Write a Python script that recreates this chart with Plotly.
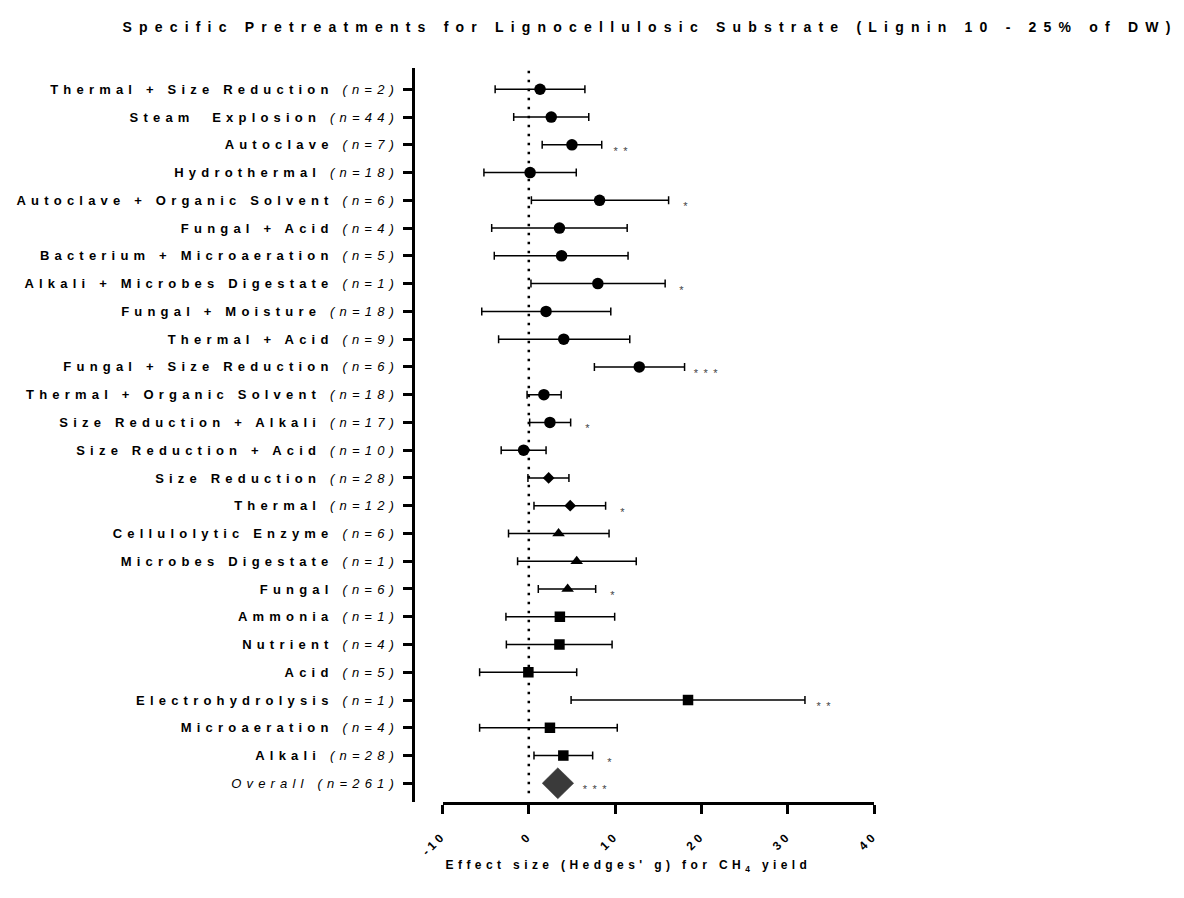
import json
import plotly.graph_objects as go

# ---- data -------------------------------------------------------------
labels = [
    "Thermal + Size Reduction", "Steam  Explosion", "Autoclave", "Hydrothermal",
    "Autoclave + Organic Solvent", "Fungal + Acid", "Bacterium + Microaeration",
    "Alkali + Microbes Digestate", "Fungal + Moisture", "Thermal + Acid",
    "Fungal + Size Reduction", "Thermal + Organic Solvent", "Size Reduction + Alkali",
    "Size Reduction + Acid", "Size Reduction", "Thermal", "Cellulolytic Enzyme",
    "Microbes Digestate", "Fungal", "Ammonia", "Nutrient", "Acid",
    "Electrohydrolysis", "Microaeration", "Alkali",
]
n_studies = [2, 44, 7, 18, 6, 4, 5, 1, 18, 9, 6, 18, 17, 10, 28, 12, 6, 1, 6, 1, 4, 5, 1, 4, 28]
effect = [1.3, 2.6, 5.0, 0.15, 8.2, 3.55, 3.8, 8.0, 2.0, 4.05, 12.8, 1.75, 2.45, -0.6,
          2.3, 4.8, 3.45, 5.55, 4.5, 3.6, 3.55, -0.05, 18.45, 2.45, 4.0]
ci_low = [-3.9, -1.75, 1.55, -5.2, 0.3, -4.3, -4.0, 0.25, -5.45, -3.5, 7.6, -0.2, 0.1, -3.2,
          -0.1, 0.6, -2.35, -1.3, 1.1, -2.65, -2.6, -5.7, 4.9, -5.7, 0.6]
ci_high = [6.5, 6.95, 8.45, 5.5, 16.2, 11.4, 11.5, 15.8, 9.5, 11.7, 18.05, 3.75, 4.85, 2.0,
           4.65, 8.9, 9.3, 12.45, 7.75, 9.95, 9.65, 5.55, 32.0, 10.25, 7.4]
stars = ["", "", "**", "", "*", "", "", "*", "", "", "***", "", "*", "",
         "", "*", "", "", "*", "", "", "", "**", "", "*"]
marker_kind = (["circle"] * 14 + ["diamond"] * 2 + ["triangle-up"] * 3 + ["square"] * 6)

overall_label = "Overall"
overall_n = 261
overall_effect = 3.36
overall_low = 1.55
overall_high = 5.2
overall_stars = "***"

x_ticks = [-10, 0, 10, 20, 30, 40]

# ---- figure geometry (pixels) ----------------------------------------
W, H = 1184, 898
FONT = "Arial, 'Liberation Sans', sans-serif"

rows = list(range(len(labels) + 1))
overall_row = rows[-1]

def px_x(p):
    return p / W

def px_y(p):
    return 1 - p / H

fig = go.Figure()

marker_sizes = {"circle": 11.5, "diamond": 9, "triangle-up": 11, "square": 10.5}
for kind in ["circle", "diamond", "triangle-up", "square"]:
    idx = [i for i, k in enumerate(marker_kind) if k == kind]
    fig.add_trace(go.Scatter(
        x=[effect[i] for i in idx],
        y=[rows[i] for i in idx],
        mode="markers",
        marker=dict(symbol=kind, size=marker_sizes[kind], color="black", line=dict(width=0)),
        error_x=dict(
            type="data", symmetric=False,
            array=[ci_high[i] - effect[i] for i in idx],
            arrayminus=[effect[i] - ci_low[i] for i in idx],
            color="black", thickness=1.5, width=4,
        ),
        showlegend=False, hoverinfo="skip",
    ))

# pooled estimate drawn as a diamond spanning its interval
half_h = 0.56
fig.add_trace(go.Scatter(
    x=[overall_low, overall_effect, overall_high, overall_effect, overall_low],
    y=[overall_row, overall_row - half_h, overall_row, overall_row + half_h, overall_row],
    mode="lines", fill="toself", fillcolor="#3a3a3a",
    line=dict(color="#3a3a3a", width=0.5),
    showlegend=False, hoverinfo="skip",
))

# zero reference line
fig.add_shape(type="line", xref="x", yref="y domain", x0=0, x1=0, y0=0.012, y1=1.0,
              line=dict(color="black", width=2.5, dash="2.5px,6.5px"))

tick_text = [f"<b>{lab}</b> <i>(n={n})</i>" for lab, n in zip(labels, n_studies)]
tick_text.append(f"<i>{overall_label} (n={overall_n})</i>")

# axis title first so it has annotation index 0
fig.add_annotation(
    x=px_x(628), y=px_y(866), xref="paper", yref="paper",
    text="<b>Effect size (Hedges' g) for CH<sub>4</sub> yield</b>",
    showarrow=False, xanchor="center", yanchor="middle",
    font=dict(family=FONT, size=12, color="black"),
)

star_x = ci_high + [overall_high]
star_txt = stars + [overall_stars]
for r, xv, s in zip(rows, star_x, star_txt):
    if s:
        fig.add_annotation(
            x=xv, y=r, xref="x", yref="y", text=s, showarrow=False,
            xanchor="left", yanchor="middle", xshift=15, yshift=-6,
            font=dict(family=FONT, size=11, color="#444444"),
        )

row_px = 27.76
top_px, bottom_px = 68, 802
first_row_px = 89.3
y_top = -(first_row_px - top_px) / row_px
y_bottom = y_top + (bottom_px - top_px) / row_px

fig.update_layout(
    width=W, height=H,
    margin=dict(l=0, r=0, t=0, b=0),
    paper_bgcolor="white", plot_bgcolor="white",
    font=dict(family=FONT, color="black"),
    title=dict(
        text="Specific Pretreatments for Lignocellulosic Substrate (Lignin 10 - 25% of DW)",
        x=px_x(650), y=px_y(27), xanchor="center", yanchor="middle",
        xref="paper", yref="paper",
        font=dict(family=FONT, size=14, color="black", weight="bold"),
    ),
    xaxis=dict(
        domain=[px_x(442.5), px_x(874)], range=[-10, 40], anchor="y",
        tickmode="array", tickvals=x_ticks, ticktext=[str(v) for v in x_ticks],
        tickangle=-45, ticks="outside", ticklen=9, tickwidth=3, tickcolor="black",
        showline=True, linewidth=3, linecolor="black",
        showgrid=False, zeroline=False, automargin=False,
        tickfont=dict(family=FONT, size=12, color="black", weight="bold"),
        ticklabelstandoff=10,
    ),
    yaxis=dict(
        domain=[px_y(bottom_px), px_y(top_px)], range=[y_bottom, y_top],
        anchor="free", position=px_x(412.7),
        tickmode="array", tickvals=rows, ticktext=tick_text,
        ticks="outside", ticklen=9, tickwidth=2.5, tickcolor="black",
        showline=True, linewidth=3, linecolor="black",
        showgrid=False, zeroline=False, automargin=False,
        tickfont=dict(family=FONT, size=13, color="black"),
        ticklabelstandoff=1,
    ),
)

# wide tracking on all text, as in the original artwork
css = (
    ".ytick text{letter-spacing:5.2px;}"
    ".xtick text{letter-spacing:3.5px;}"
    ".gtitle{letter-spacing:7.2px;}"
    ".annotation[data-index='0'] text{letter-spacing:4.4px;}"
    ".annotation:not([data-index='0']) text{letter-spacing:5.5px;}"
)
post = ("var st=document.createElement('style');st.textContent=" + json.dumps(css) +
        ";document.head.appendChild(st);")
fig.write_html("out.html", post_script=post)
